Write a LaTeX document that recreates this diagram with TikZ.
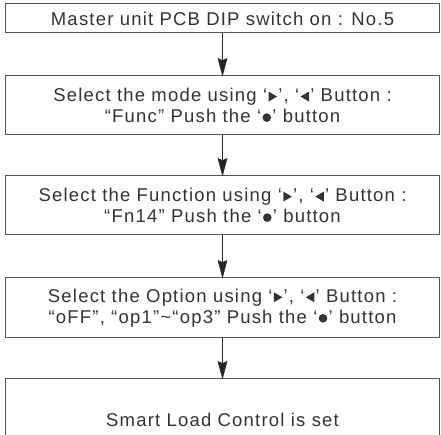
\documentclass[tikz,border=0pt]{standalone}
\usepackage{fontspec}
\setmainfont{Liberation Sans}[LetterSpace=6.5]
\definecolor{txt}{HTML}{333333}
\definecolor{frame}{HTML}{555555}
\newcommand{\symbb}{\pgfpathrectangle{\pgfpointorigin}{\pgfpoint{9.5pt}{10pt}}\pgfusepath{use as bounding box}}
\newcommand{\rt}{\kern0.8pt\begin{pgfpicture}\symbb
  \pgfpathmoveto{\pgfpoint{0.5pt}{0pt}}\pgfpathlineto{\pgfpoint{0.5pt}{10pt}}\pgfpathlineto{\pgfpoint{9pt}{5pt}}\pgfpathclose
  \pgfsetfillcolor{txt}\pgfusepath{fill}\end{pgfpicture}\kern0.8pt}
\newcommand{\lt}{\kern0.8pt\begin{pgfpicture}\symbb
  \pgfpathmoveto{\pgfpoint{9pt}{0pt}}\pgfpathlineto{\pgfpoint{9pt}{10pt}}\pgfpathlineto{\pgfpoint{0.5pt}{5pt}}\pgfpathclose
  \pgfsetfillcolor{txt}\pgfusepath{fill}\end{pgfpicture}\kern0.8pt}
\newcommand{\dotb}{\kern0.8pt\begin{pgfpicture}\symbb
  \pgfpathcircle{\pgfpoint{4.75pt}{5pt}}{4.3pt}
  \pgfsetfillcolor{txt}\pgfusepath{fill}\end{pgfpicture}\kern0.8pt}
\begin{document}
\begin{tikzpicture}[x=1pt,y=1pt,
  box/.style={draw=frame,line width=1pt,minimum width=434pt,inner sep=0pt,
    align=center,text=txt,font=\fontsize{18.5pt}{21pt}\selectfont},
  flow/.style={draw=black!85,line width=1pt},
  tip/.style={fill=black!85,draw=black!85,line width=0.5pt,line join=miter}]
\useasboundingbox (0,0) rectangle (441,435);
\node[box,minimum height=29pt] (b1) at (222.5,416.5) {Master unit PCB DIP switch on : No.5};
\node[box,minimum height=59pt] (b2) at (222.5,329.5) {Select the mode using ‘\rt’, ‘\lt’ Button :\\“Func” Push the ‘\dotb’ button};
\node[box,minimum height=59pt] (b3) at (222.5,229.5) {Select the Function using ‘\rt’, ‘\lt’ Button :\\“Fn14” Push the ‘\dotb’ button};
\node[box,minimum height=60pt] (b4) at (222.5,127) {Select the Option using ‘\rt’, ‘\lt’ Button :\\“oFF”, “op1”\textasciitilde“op3” Push the ‘\dotb’ button};
\node[box,minimum height=82pt] (b5) at (222.5,15) {Smart Load Control is set};
\foreach \a/\b in {b1/b2,b2/b3,b3/b4,b4/b5}{
  \draw[flow] (\a.south) -- (\b.north);
  \filldraw[tip] (\b.north) -- ++(-4.5,17) -- ++(4.5,-2) -- ++(4.5,2) -- cycle;
}
\end{tikzpicture}
\end{document}
